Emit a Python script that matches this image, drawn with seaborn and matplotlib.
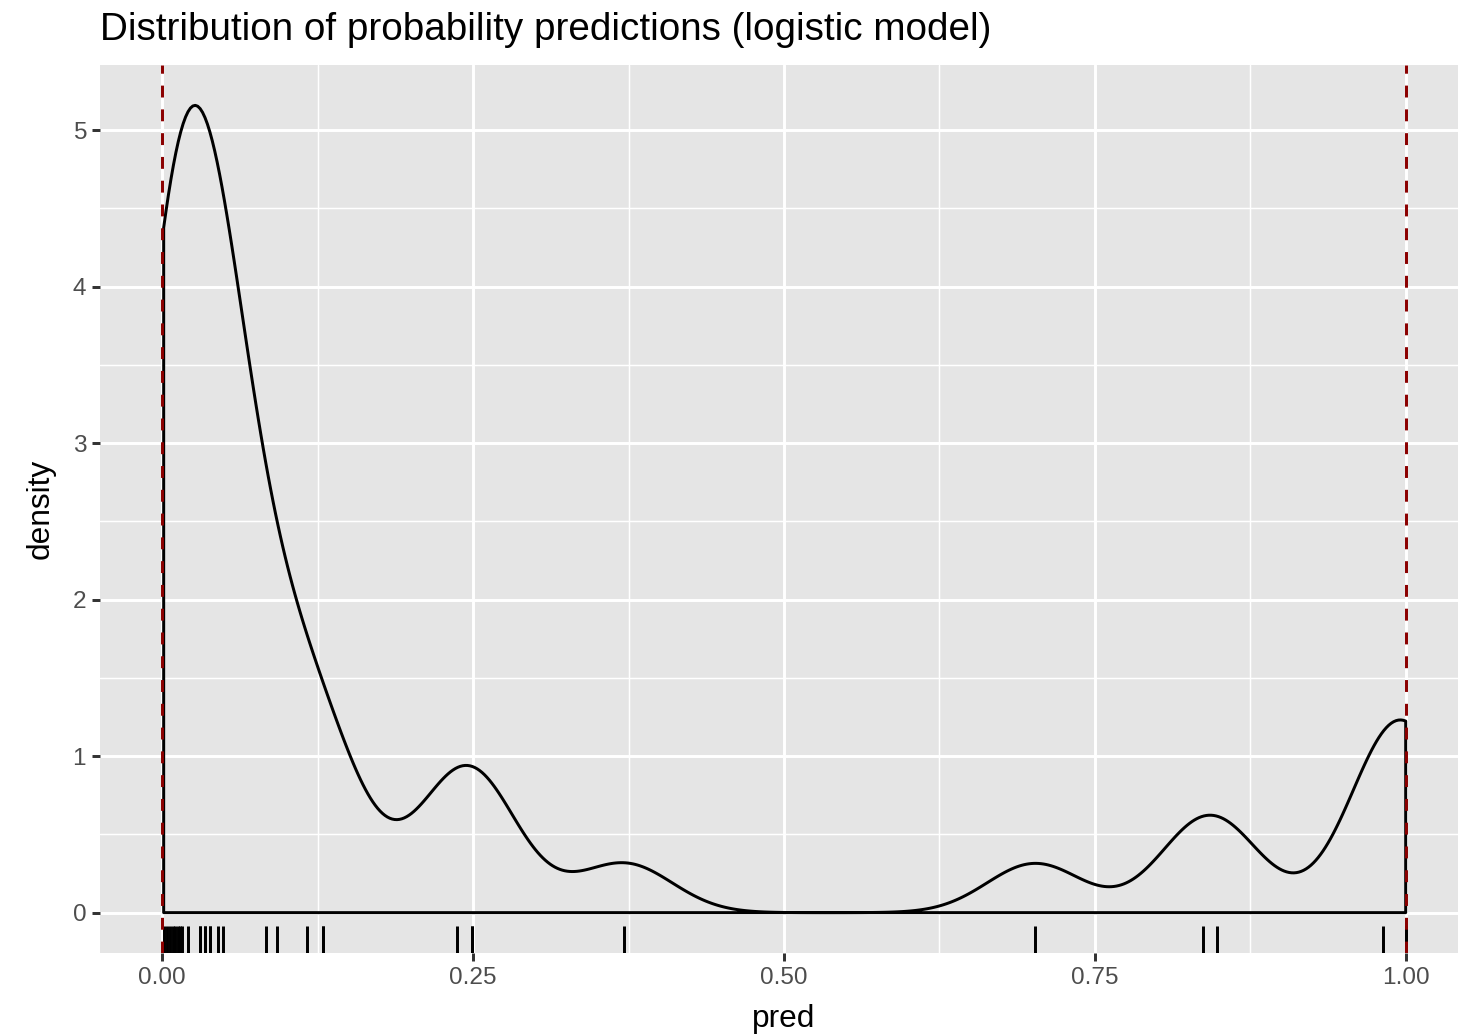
import numpy as np
import pandas as pd
import matplotlib
matplotlib.use("Agg")
import matplotlib.pyplot as plt
from matplotlib.ticker import AutoMinorLocator
import seaborn as sns

# Predicted probabilities from the logistic model
pred = [
    0.0012, 0.0036, 0.0060, 0.0084, 0.0105, 0.0125, 0.0141, 0.0157,
    0.0210, 0.0305, 0.0305, 0.0346, 0.0346, 0.0386, 0.0386, 0.0450, 0.0490,
    0.0838, 0.0922, 0.1163, 0.1297, 0.1297,
    0.2369, 0.2495, 0.2495, 0.3716,
    0.7018, 0.8370, 0.8480, 0.9820, 0.9999, 0.9999, 0.9999,
]
x_ticks = [0.0, 0.25, 0.5, 0.75, 1.0]
x_tick_labels = ["0.00", "0.25", "0.50", "0.75", "1.00"]
y_ticks = [0, 1, 2, 3, 4, 5]
ref_lines = [0.0, 1.0]
bandwidth = 0.0385

df = pd.DataFrame({"pred": pred})

sns.set_theme(style="darkgrid")
plt.rcParams["font.family"] = ["Liberation Sans", "DejaVu Sans"]

W, H = 1458, 1036
fig = plt.figure(figsize=(W / 200, H / 200), dpi=200, facecolor="white")
ax = fig.add_axes([100 / W, 1 - 953 / H, 1368 / W, 888 / H])
ax.set_facecolor("#E5E5E5")

lw = 1.07  # ggplot linewidth 0.5

# Kernel density, outlined like a closed area over the data range
factor = bandwidth / df["pred"].std(ddof=1)
sns.kdeplot(data=df, x="pred", bw_method=factor, cut=0, gridsize=512,
            fill=True, color="black", facecolor="none", edgecolor="black",
            linewidth=lw, ax=ax, zorder=3)
verts = ax.collections[0].get_paths()[0].vertices
ymax = verts[:, 1].max()

# Rug of observations
sns.rugplot(data=df, x="pred", height=0.03, color="black", linewidth=lw,
            expand_margins=False, ax=ax, zorder=4)

# Reference lines at the probability bounds
for v in ref_lines:
    ax.axvline(v, color="#8B0000", linewidth=lw, linestyle=(0, (4, 4)), zorder=5)

ax.set_xlim(-0.05, 1.05)
ax.set_ylim(-0.05 * ymax, 1.05 * ymax)
ax.set_xticks(x_ticks)
ax.set_xticklabels(x_tick_labels)
ax.set_yticks(y_ticks)
ax.xaxis.set_minor_locator(AutoMinorLocator(2))
ax.yaxis.set_minor_locator(AutoMinorLocator(2))

ax.grid(which="major", color="white", linewidth=lw)
ax.grid(which="minor", color="white", linewidth=lw / 2)
ax.set_axisbelow(True)
for s in ax.spines.values():
    s.set_visible(False)

ax.tick_params(which="major", bottom=True, left=True, length=2.75, width=lw,
               color="#333333", labelcolor="#4D4D4D", labelsize=8.8, pad=2.2)
ax.tick_params(which="minor", length=0)

ax.set_xlabel("pred", fontsize=11.4, color="black", labelpad=5.5)
ax.set_ylabel("density", fontsize=11.4, color="black", labelpad=6)
ax.set_title("Distribution of probability predictions (logistic model)",
             loc="left", fontsize=13.9, color="black", pad=9)

fig.savefig("out.png", dpi=200, facecolor="white")
